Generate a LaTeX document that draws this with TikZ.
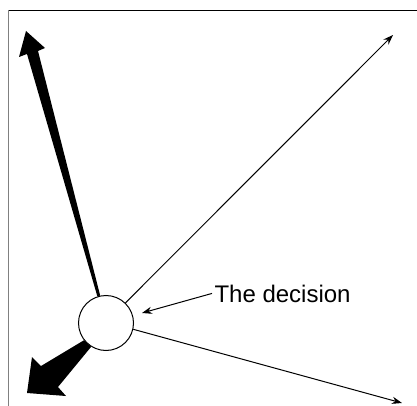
\documentclass[tikz,border=0pt]{standalone}
\usepackage{fontspec}
\setmainfont{Liberation Sans}
\usetikzlibrary{arrows.meta}

\begin{document}
\begin{tikzpicture}[x=0.5pt,y=-0.5pt,>={Stealth[length=5pt,width=3.6pt]},line width=0.5pt,
    choice/.style={circle,draw,fill=white,minimum size=27.5pt,inner sep=0pt},
    fat/.style={fill=black,draw=none}]
  \useasboundingbox (0,0) rectangle (417,406);
  \draw[line width=0.75pt] (8.5,10.5) -- (417,10.5);
  \draw[line width=0.75pt,black!50] (8.5,10.5) -- (8.5,406);
  \node[choice] (dec) at (106,323) {};
  \node[anchor=base west,inner sep=1pt,font=\fontsize{12}{14}\selectfont] (lbl) at (212,302) {The decision};
  \coordinate (ne) at (393,35);
  \coordinate (se) at (402,403);
  \coordinate (aim) at (142,313);
  % thin branches
  \draw[->] (dec.46) -- (ne);
  \draw[->] (dec.-13) -- (se);
  \draw[->] (lbl.west) -- (aim);
  % fat branches
  \fill[fat] (dec.102) -- (38,51) -- (45,48) -- (26,31) -- (19,57) -- (27,54) -- (dec.108) -- cycle;
  \fill[fat] (dec.218) -- (41,366) -- (32,357) -- (27,393) -- (66,396) -- (58,387) -- (dec.238) -- cycle;
\end{tikzpicture}
\end{document}
